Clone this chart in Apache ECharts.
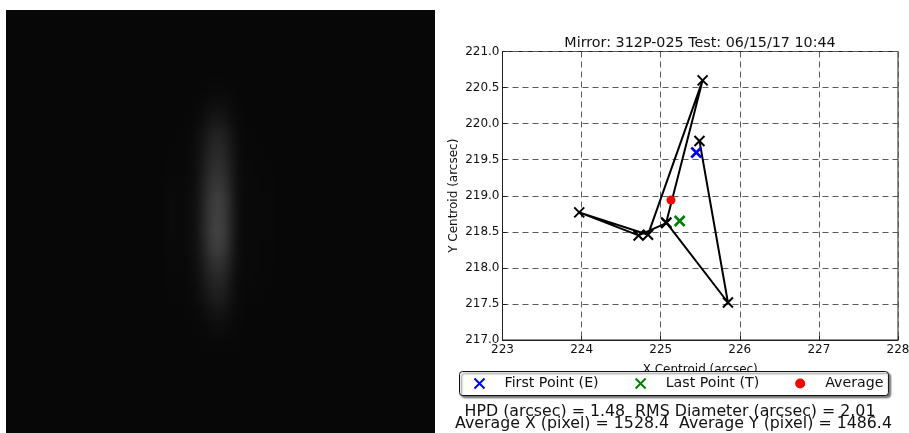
<!DOCTYPE html>
<html>
<head>
<meta charset="utf-8">
<style>
html,body{margin:0;padding:0;background:#fff;width:909px;height:433px;overflow:hidden}
#imgWrap{position:absolute;left:6px;top:10px;width:429px;height:423px;overflow:hidden;background:#070707}
#imgChart{position:absolute;left:-12px;top:-12px;width:453px;height:447px;filter:blur(5px)}
#plot{position:absolute;left:0;top:0;width:909px;height:433px}
</style>
<script src="https://cdn.jsdelivr.net/npm/echarts@6/dist/echarts.min.js"></script>
</head>
<body>
<div id="imgWrap"><div id="imgChart"></div></div>
<div id="plot"></div>
<script>
// Reference image: estimated gray levels, rows top to bottom, columns left to right
const imageCols = ['164','172','180','188','196','204','212','220','228','236','244','252','260','268','276'];
const imageRows = ['72','88','104','120','136','152','168','184','200','216','232','248','264','280','296','312','328','344'];
const imageGray = [
  [7,7,7,7,7,7,7,7,7,7,7,7,7,7,7],
  [7,7,7,7,7,8,9,10,9,8,7,7,7,7,7],
  [7,7,7,7,8,10,14,15,12,9,7,7,7,7,7],
  [7,7,7,8,9,14,22,24,18,10,8,7,7,7,7],
  [7,7,8,8,11,21,33,36,27,13,8,8,7,7,7],
  [7,8,8,9,12,25,39,43,32,15,8,8,8,7,7],
  [7,9,8,9,13,29,45,50,37,16,8,9,8,8,7],
  [8,10,8,10,14,33,51,57,42,17,8,10,8,9,7],
  [8,11,8,11,15,36,58,66,47,18,7,10,9,10,7],
  [8,11,8,11,15,37,60,67,48,18,7,10,9,10,7],
  [8,11,8,11,15,38,62,69,49,18,7,10,9,10,7],
  [8,10,8,11,15,35,58,64,46,17,7,10,8,9,7],
  [7,10,8,10,13,29,46,51,37,15,8,10,8,9,7],
  [7,9,8,9,12,24,36,40,29,13,8,9,8,8,7],
  [7,8,8,8,11,19,28,31,23,11,8,8,8,7,7],
  [7,7,7,8,9,13,19,21,16,10,8,7,7,7,7],
  [7,7,7,7,8,9,12,13,11,9,7,7,7,7,7],
  [7,7,7,7,7,8,8,9,8,8,7,7,7,7,7]
];

// Centroid plot
const pathX = [225.49,225.85,225.07,225.53,224.84,223.97,224.72,225.07];
const pathY = [219.76,217.52,218.63,220.60,218.46,218.77,218.45,218.62];
const firstPoint = [225.45,219.60];
const lastPoint = [225.24,218.65];
const averagePoint = [225.13,218.94];
const chartTitle = 'Mirror: 312P-025 Test: 06/15/17 10:44';
const xName = 'X Centroid (arcsec)';
const yName = 'Y Centroid (arcsec)';
const statLine1 = 'HPD (arcsec) = 1.48  RMS Diameter (arcsec) = 2.01';
const statLine2 = 'Average X (pixel) = 1528.4  Average Y (pixel) = 1486.4';
const legendNames = ['First Point (E)','Last Point (T)','Average'];

const font = 'DejaVu Sans';
const cross = 'path://M0 0L10 10M10 0L0 10';

const img = echarts.init(document.getElementById('imgChart'), null, {renderer:'canvas'});
const cells = [];
imageGray.forEach((row,r)=>row.forEach((v,c)=>cells.push([c,r,v])));
img.setOption({
  animation:false,
  backgroundColor:'#070707',
  grid:{left:166,top:66,width:120,height:288,show:false,outerBoundsMode:'none'},
  xAxis:{type:'category',data:imageCols,show:false},
  yAxis:{type:'category',data:imageRows,inverse:true,show:false},
  visualMap:{show:false,type:'continuous',min:0,max:255,inRange:{color:['#000000','#ffffff']}},
  series:[{type:'heatmap',data:cells,emphasis:{disabled:true},silent:true}]
});

const dashed = {show:true,lineStyle:{type:[6,4],color:'#5a5a5a',width:1}};
const axisCommon = {
  axisLine:{show:true,lineStyle:{color:'#222',width:1}},
  axisTick:{show:true,inside:true,length:4,lineStyle:{color:'#222'}},
  splitLine:dashed,
  nameLocation:'middle',
  nameTextStyle:{fontFamily:font,fontSize:12,color:'#111'}
};
const chart = echarts.init(document.getElementById('plot'), null, {renderer:'canvas'});
chart.setOption({
  animation:false,
  backgroundColor:'transparent',
  textStyle:{fontFamily:font},
  title:[
    {text:chartTitle,left:700,top:36,textAlign:'center',padding:0,textStyle:{fontFamily:font,fontSize:14.3,fontWeight:'normal',color:'#111'}},
    {text:statLine1,left:670,top:403.5,textAlign:'center',padding:0,textStyle:{fontFamily:font,fontSize:15.8,fontWeight:'normal',color:'#111'}},
    {text:statLine2,left:673.5,top:415.5,textAlign:'center',padding:0,textStyle:{fontFamily:font,fontSize:15.8,fontWeight:'normal',color:'#111'}}
  ],
  grid:{left:502.5,top:51.5,width:395.5,height:288.5,show:true,borderColor:'#222',borderWidth:1,backgroundColor:'#fff',outerBoundsMode:'none'},
  xAxis:Object.assign({},axisCommon,{type:'value',min:223,max:228,interval:1,name:xName,nameGap:24,
    axisLabel:{fontFamily:font,fontSize:12,color:'#111',margin:4}}),
  yAxis:Object.assign({},axisCommon,{type:'value',min:217,max:221,interval:0.5,name:yName,nameGap:43,
    axisLabel:{fontFamily:font,fontSize:12,color:'#111',margin:3,formatter:v=>v.toFixed(1)}}),
  legend:{
    data:legendNames,
    left:459.5,top:371.5,
    padding:[5,5,5,14],
    itemWidth:14,itemHeight:10,itemGap:36,
    backgroundColor:'#fff',borderColor:'#111',borderWidth:1,borderRadius:3,
    shadowColor:'rgba(0,0,0,0.55)',shadowBlur:2,shadowOffsetX:2,shadowOffsetY:2,
    textStyle:{fontFamily:font,fontSize:14.2,color:'#111',padding:[0,0,0,13]},
    selectedMode:false,z:10
  },
  series:[
    {name:'path',type:'line',data:pathX.map((x,i)=>[x,pathY[i]]),
     lineStyle:{color:'#000',width:2},symbol:cross,symbolSize:10,showAllSymbol:true,
     itemStyle:{color:'transparent',borderColor:'#000',borderWidth:2},z:2,silent:true},
    {name:legendNames[0],type:'scatter',data:[firstPoint],symbol:cross,symbolSize:10,
     itemStyle:{color:'transparent',borderColor:'#0000ff',borderWidth:2.6,opacity:1},z:3},
    {name:legendNames[1],type:'scatter',data:[lastPoint],symbol:cross,symbolSize:10,
     itemStyle:{color:'transparent',borderColor:'#008000',borderWidth:2.6,opacity:1},z:3},
    {name:legendNames[2],type:'scatter',data:[averagePoint],symbol:'circle',symbolSize:9,
     itemStyle:{color:'#ff0000',borderWidth:0,opacity:1},z:4}
  ]
});
</script>
</body>
</html>
